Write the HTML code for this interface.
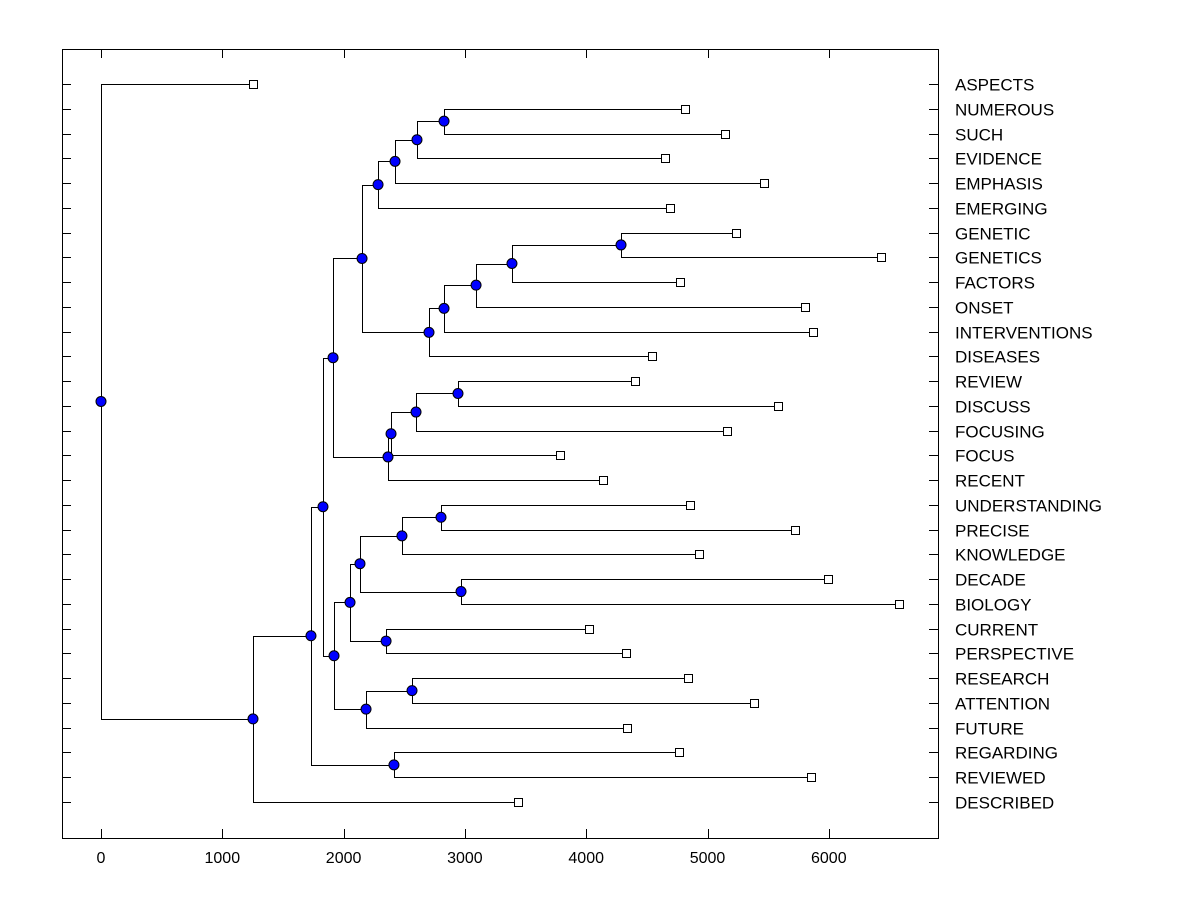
<!DOCTYPE html>
<html><head><meta charset="utf-8"><style>
body{margin:0;background:#fff;}
svg text{font-family:"Liberation Sans",Arial,sans-serif;}
</style></head><body>
<svg id="c" width="1200" height="900" xmlns="http://www.w3.org/2000/svg"></svg>
<script>
const leafLabels=["ASPECTS","NUMEROUS","SUCH","EVIDENCE","EMPHASIS","EMERGING","GENETIC","GENETICS","FACTORS","ONSET","INTERVENTIONS","DISEASES","REVIEW","DISCUSS","FOCUSING","FOCUS","RECENT","UNDERSTANDING","PRECISE","KNOWLEDGE","DECADE","BIOLOGY","CURRENT","PERSPECTIVE","RESEARCH","ATTENTION","FUTURE","REGARDING","REVIEWED","DESCRIBED"];
const leafHeights=[1253,4815,5144,4650,5466,4691,5235,6430,4773,5804,5870,4542,4402,5581,5161,3784,4139,4856,5721,4930,5993,6579,4023,4328,4839,5383,4336,4765,5853,3438];
const mergeLeft=[1,30,31,32,6,34,35,36,37,33,12,40,41,42,39,17,45,20,46,22,48,24,51,50,44,27,54,56,0];
const mergeRight=[2,3,4,5,7,8,9,10,11,38,13,14,15,16,43,18,19,21,47,23,49,25,26,52,53,28,55,29,57];
const mergeHeights=[2828,2605,2424,2284,4287,3388,3092,2828,2704,2152,2943,2597,2391,2366,1913,2803,2481,2968,2135,2350,2053,2564,2185,1921,1830,2415,1731,1253,0];
const xTicks=[0,1000,2000,3000,4000,5000,6000];

const L=62,R=938,T=49,B=838;
const X=v=>101+v*0.1213;
const rowY=i=>84+i*(802-84)/29;
const svg=document.getElementById('c');
const NS='http://www.w3.org/2000/svg';
function mk(tag,attrs,parent){const e=document.createElementNS(NS,tag);for(const k in attrs)e.setAttribute(k,attrs[k]);(parent||svg).appendChild(e);return e;}

const frame=mk('rect',{x:L+0.5,y:T+0.5,width:R-L,height:B-T,fill:'none',stroke:'#000'});



xTicks.forEach(v=>{
  const x=Math.round(X(v))+0.5;
  const t1=mk('line',{x1:x,x2:x,y1:B,y2:B-9,stroke:'#000'});
  
  
  const t2=mk('line',{x1:x,x2:x,y1:T,y2:T+9,stroke:'#000'});
  
  
  const lb=mk('text',{x:X(v),y:863,'text-anchor':'middle','font-size':'16'});
  lb.textContent=v;
  
  
});

leafLabels.forEach((n,i)=>{
  const y=Math.round(rowY(i))+0.5;
  const a=mk('line',{x1:L,x2:L+9,y1:y,y2:y,stroke:'#000'});
  
  
  const b=mk('line',{x1:R,x2:R-9,y1:y,y2:y,stroke:'#000'});
  
  
  const t=mk('text',{x:955,y:y+6,'font-size':'17'});
  t.textContent=n;
  
  
});

const nodeX=[],nodeY=[];
leafHeights.forEach((h,i)=>{nodeX[i]=X(h);nodeY[i]=rowY(i);});
const nLeaf=leafLabels.length;
mergeHeights.forEach((h,j)=>{
  const id=nLeaf+j,a=mergeLeft[j],b=mergeRight[j];
  nodeX[id]=X(h);nodeY[id]=(nodeY[a]+nodeY[b])/2;
});
const lines=mk('g',{stroke:'#000',fill:'none'});


mergeHeights.forEach((h,j)=>{
  const id=nLeaf+j,a=mergeLeft[j],b=mergeRight[j],x=Math.round(nodeX[id])+0.5;
  const p=mk('path',{d:`M${Math.round(nodeX[a])+0.5},${Math.round(nodeY[a])+0.5}H${x}V${Math.round(nodeY[b])+0.5}H${Math.round(nodeX[b])+0.5}`},lines);
  
  
});
leafHeights.forEach((h,i)=>{
  const s=mk('rect',{x:Math.round(nodeX[i])-3.5,y:Math.round(nodeY[i])-3.5,width:8,height:8,fill:'#fff',stroke:'#000'});
  
  
});
mergeHeights.forEach((h,j)=>{
  const id=nLeaf+j;
  const c=mk('circle',{cx:nodeX[id],cy:nodeY[id],r:5,fill:'#0000ff',stroke:'#000'});
  
  
});
</script>
</body></html>
